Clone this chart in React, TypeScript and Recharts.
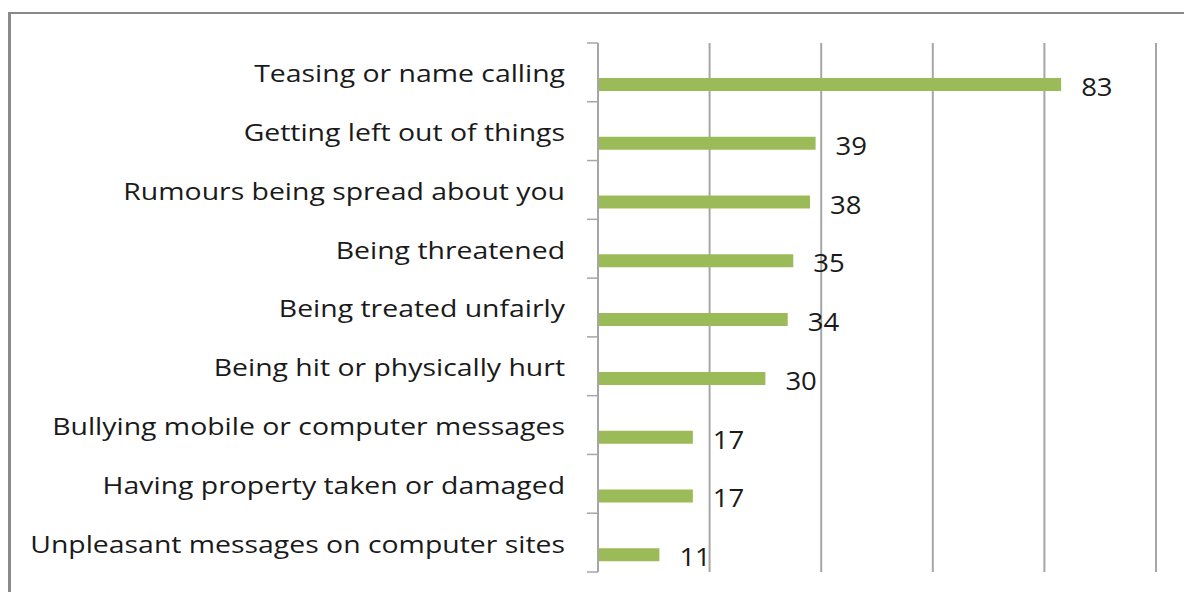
import React from 'react';
import { BarChart, Bar, XAxis, YAxis, CartesianGrid, LabelList } from 'recharts';

const categories = [
  'Teasing or name calling',
  'Getting left out of things',
  'Rumours being spread about you',
  'Being threatened',
  'Being treated unfairly',
  'Being hit or physically hurt',
  'Bullying mobile or computer messages',
  'Having property taken or damaged',
  'Unpleasant messages on computer sites',
];
const values = [83, 39, 38, 35, 34, 30, 17, 17, 11];
const xTicks = [0, 20, 40, 60, 80, 100];

const data = categories.map((name, i) => ({ name, blank: 0, value: values[i] }));

const W = 1184;
const H = 592;
const MARGIN = { top: 43, right: 28, bottom: 20, left: 0 };
const Y_AXIS_W = 598;
const TICK_SIZE = 11;
const TICK_MARGIN = 22;
const GRID = '#A6A6A6';
const FONT = '"Open Sans", sans-serif';
const CAT_SIZE = 23;
const CAT_STRETCH = 1.235;
const VAL_SIZE = 25;
const VAL_STRETCH = 1.1;

const band = (H - MARGIN.top - MARGIN.bottom) / categories.length;

const CategoryTick = (props: any) => {
  const { x, y, payload, index, visibleTicksCount } = props;
  const x1 = x + TICK_MARGIN;
  const x2 = x1 + TICK_SIZE;
  const last = index === (visibleTicksCount ?? categories.length) - 1;
  return (
    <g>
      <line x1={x1} x2={x2} y1={y - band / 2} y2={y - band / 2} stroke={GRID} strokeWidth={1.5} />
      {last && <line x1={x1} x2={x2} y1={y + band / 2} y2={y + band / 2} stroke={GRID} strokeWidth={1.5} />}
      <text
        transform={`translate(${x},${y + 1}) scale(${CAT_STRETCH},1)`}
        x={0}
        y={0}
        textAnchor="end"
        dominantBaseline="central"
        fontFamily={FONT}
        fontSize={CAT_SIZE}
        fill="#1a1a1a"
      >
        {payload.value}
      </text>
    </g>
  );
};

const ValueLabel = (props: any) => {
  const { x, y, width, height, value } = props;
  return (
    <text
      transform={`translate(${x + width + 20},${y + height / 2 + 2}) scale(${VAL_STRETCH},1)`}
      x={0}
      y={0}
      textAnchor="start"
      dominantBaseline="central"
      fontFamily={FONT}
      fontSize={VAL_SIZE}
      fill="#1a1a1a"
    >
      {value}
    </text>
  );
};

export default function App() {
  return (
    <div style={{ position: 'absolute', left: 0, top: 0, width: W, height: H, overflow: 'hidden', background: '#fff' }}>
      <div style={{ position: 'absolute', left: 8, top: 12, width: 1400, height: 800, borderLeft: '3px solid #8a8a8a', borderTop: '2px solid #8a8a8a' }} />
      <div style={{ position: 'absolute', left: 0, top: 0 }}>
        <BarChart width={W} height={H} data={data} layout="vertical" margin={MARGIN} barSize={13} barGap={11}>
          <CartesianGrid horizontal={false} stroke={GRID} strokeWidth={2} />
          <XAxis type="number" domain={[0, 100]} ticks={xTicks} hide />
          <YAxis
            type="category"
            dataKey="name"
            width={Y_AXIS_W}
            axisLine={{ stroke: GRID, strokeWidth: 2 }}
            tickLine={false}
            tickSize={TICK_SIZE}
            tickMargin={TICK_MARGIN}
            interval={0}
            tick={<CategoryTick />}
          />
          <Bar dataKey="blank" fill="transparent" isAnimationActive={false} />
          <Bar dataKey="value" fill="#9BBB59" isAnimationActive={false}>
            <LabelList dataKey="value" content={<ValueLabel />} />
          </Bar>
        </BarChart>
      </div>
    </div>
  );
}
